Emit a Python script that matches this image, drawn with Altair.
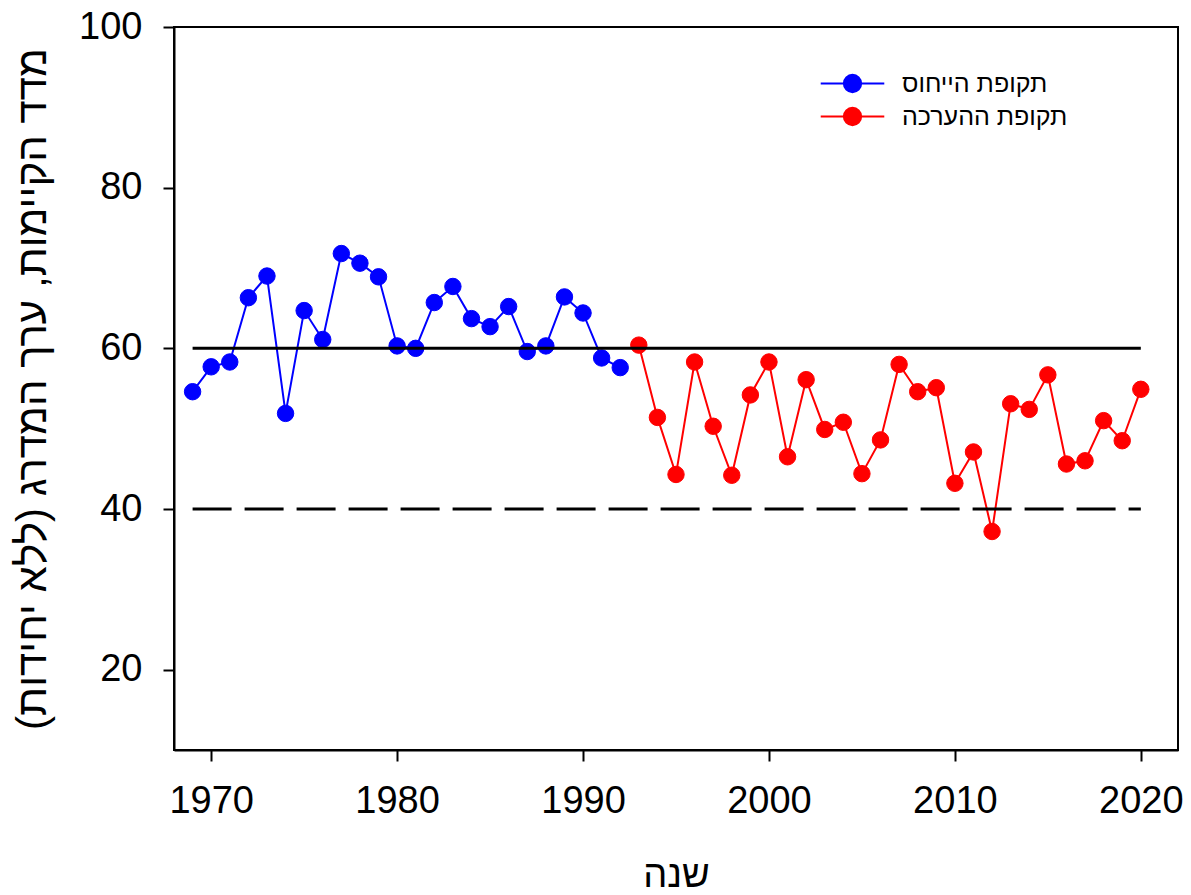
import altair as alt
import pandas as pd

# Reference period (1969-1992) and assessment period (1993-2020)
ref_label = "תקופת הייחוס"
eval_label = "תקופת ההערכה"

ref_years = list(range(1969, 1993))
ref_values = [54.6, 57.7, 58.3, 66.3, 69.0, 51.9, 64.7, 61.1, 71.8, 70.6, 68.9, 60.3,
              60.0, 65.7, 67.7, 63.7, 62.7, 65.2, 59.6, 60.3, 66.4, 64.4, 58.8, 57.6]

eval_years = list(range(1993, 2021))
eval_values = [60.4, 51.4, 44.3, 58.3, 50.3, 44.2, 54.2, 58.3, 46.5, 56.1, 49.9, 50.8,
               44.4, 48.6, 58.0, 54.6, 55.1, 43.2, 47.1, 37.2, 53.1, 52.4, 56.7, 45.6,
               46.0, 51.0, 48.5, 54.9]

# Threshold lines
upper_threshold = 60
lower_threshold = 40
threshold_start = 1969
threshold_end = 2020

x_ticks = [1970, 1980, 1990, 2000, 2010, 2020]
y_ticks = [20, 40, 60, 80, 100]

series = pd.DataFrame({
    "year": ref_years + eval_years,
    "value": ref_values + eval_values,
    "period": [ref_label] * len(ref_years) + [eval_label] * len(eval_years),
})
solid_df = pd.DataFrame({"y": [upper_threshold], "x": [threshold_start], "x2": [threshold_end]})
dashed_df = pd.DataFrame({"y": [lower_threshold], "x": [threshold_start], "x2": [threshold_end]})

FONT = "Liberation Sans"
period_domain = [ref_label, eval_label]
period_range = ["#0000FF", "#FF0000"]

x_enc = alt.X("year:Q", scale=alt.Scale(domain=[1968, 2022], nice=False, zero=False),
              axis=alt.Axis(values=x_ticks, format="d", title="שנה", titlePadding=36))
y_enc = alt.Y("value:Q", scale=alt.Scale(domain=[10, 100], nice=False, zero=False),
              axis=alt.Axis(values=y_ticks, title="מדד הקיימות, ערך המדרג (ללא יחידות)",
                            titlePadding=24, titleFontSize=42))

legend = alt.Legend(title=None)
stroke_enc = alt.Stroke("period:N", scale=alt.Scale(domain=period_domain, range=period_range),
                        legend=legend)
fill_enc = alt.Fill("period:N", scale=alt.Scale(domain=period_domain, range=period_range),
                    legend=legend)

lines = alt.Chart(series).mark_line(strokeWidth=2).encode(
    x=x_enc, y=y_enc, stroke=stroke_enc, detail="period:N"
)
points = alt.Chart(series).mark_point(filled=True, size=270, opacity=1, strokeWidth=1).encode(
    x="year:Q", y="value:Q", fill=fill_enc, stroke=stroke_enc
)

solid_rule = alt.Chart(solid_df).mark_rule(color="black", strokeWidth=3).encode(
    x="x:Q", x2="x2:Q", y="y:Q"
)
dashed_rule = alt.Chart(dashed_df).mark_rule(color="black", strokeWidth=3,
                                             strokeDash=[39, 13]).encode(
    x="x:Q", x2="x2:Q", y="y:Q"
)

# legend symbol: short line segment with a filled dot in the middle
legend_symbol = "M-3.67,0L3.67,0M-1,0A1,1,0,1,1,1,0A1,1,0,1,1,-1,0Z"

chart = alt.layer(lines, points, solid_rule, dashed_rule).properties(
    width=1004,
    height=723,
    autosize=alt.AutoSizeParams(type="none"),
    padding={"left": 174, "top": 27, "right": 13, "bottom": 145},
).configure_view(
    stroke="black", strokeWidth=2
).configure_axis(
    labelFont=FONT, labelFontSize=38, labelColor="black", labelPadding=21,
    titleFont=FONT, titleFontSize=38, titleFontWeight="normal", titleColor="black",
    domainColor="black", domainWidth=2, tickColor="black", tickWidth=2, tickSize=11,
    grid=False,
).configure_legend(
    orient="none", legendX=666, legendY=44, padding=0,
    symbolType=legend_symbol, symbolSize=300, symbolStrokeWidth=2,
    labelFont=FONT, labelFontSize=25, labelColor="black", labelOffset=37,
    labelLimit=400, rowPadding=6,
)

chart.save("out.html", embed_options={"renderer": "svg", "actions": False})
